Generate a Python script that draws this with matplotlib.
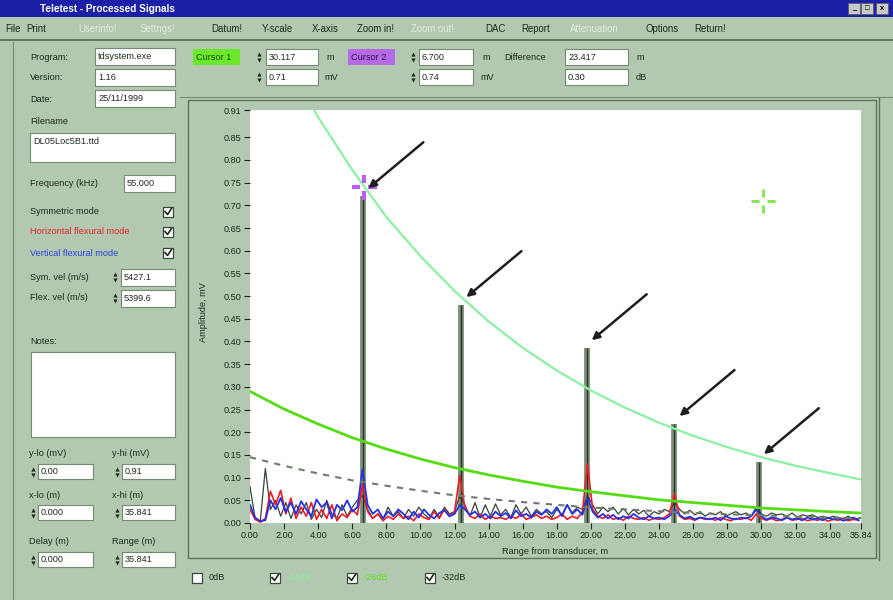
import numpy as np
import matplotlib.pyplot as plt
from matplotlib.patches import Rectangle
from matplotlib.path import Path
from matplotlib.transforms import offset_copy

plt.rcParams['font.family'] = ['Liberation Sans', 'DejaVu Sans']

# ---- processed traces, amplitude (mV) every 0.3 m from the transducer ----
x_step = 0.3
blue_amp = [
    0.040, 0.012, 0.004, 0.006, 0.050, 0.030, 0.055, 0.025, 0.045, 0.020,
    0.048, 0.030, 0.015, 0.052, 0.035, 0.045, 0.010, 0.040, 0.028, 0.050,
    0.025, 0.035, 0.118, 0.040, 0.020, 0.030, 0.010, 0.025, 0.015, 0.030,
    0.020, 0.008, 0.025, 0.012, 0.030, 0.018, 0.010, 0.022, 0.028, 0.015,
    0.020, 0.040, 0.030, 0.018, 0.025, 0.012, 0.020, 0.010, 0.025, 0.015,
    0.022, 0.010, 0.028, 0.015, 0.020, 0.012, 0.025, 0.018, 0.030, 0.020,
    0.035, 0.015, 0.040, 0.020, 0.030, 0.018, 0.055, 0.025, 0.012, 0.020,
    0.010, 0.018, 0.008, 0.015, 0.010, 0.020, 0.012, 0.008, 0.015, 0.010,
    0.012, 0.008, 0.015, 0.030, 0.018, 0.010, 0.014, 0.008, 0.012, 0.010,
    0.008, 0.012, 0.006, 0.015, 0.010, 0.008, 0.012, 0.010, 0.015, 0.030,
    0.015, 0.008, 0.012, 0.010, 0.006, 0.012, 0.008, 0.010, 0.006, 0.012,
    0.008, 0.010, 0.006, 0.012, 0.008, 0.010, 0.005, 0.008, 0.012, 0.006,
]
red_amp = [
    0.030, 0.008, 0.002, 0.010, 0.070, 0.040, 0.072, 0.020, 0.055, 0.010,
    0.035, 0.015, 0.045, 0.008, 0.030, 0.010, 0.040, 0.005, 0.020, 0.012,
    0.030, 0.018, 0.085, 0.025, 0.010, 0.020, 0.005, 0.015, 0.008, 0.020,
    0.010, 0.015, 0.005, 0.020, 0.012, 0.008, 0.025, 0.010, 0.030, 0.015,
    0.025, 0.105, 0.035, 0.015, 0.010, 0.020, 0.008, 0.015, 0.010, 0.012,
    0.008, 0.015, 0.010, 0.020, 0.008, 0.012, 0.018, 0.010, 0.015, 0.008,
    0.012, 0.020, 0.008, 0.015, 0.010, 0.025, 0.130, 0.030, 0.015, 0.010,
    0.018, 0.008, 0.012, 0.006, 0.015, 0.010, 0.008, 0.012, 0.006, 0.010,
    0.008, 0.012, 0.020, 0.065, 0.015, 0.008, 0.010, 0.006, 0.012, 0.008,
    0.010, 0.006, 0.012, 0.008, 0.005, 0.010, 0.008, 0.012, 0.006, 0.020,
    0.010, 0.006, 0.010, 0.005, 0.008, 0.012, 0.006, 0.008, 0.010, 0.005,
    0.008, 0.006, 0.010, 0.004, 0.008, 0.006, 0.010, 0.005, 0.008, 0.006,
]
sym_amp = [
    0.080, 0.010, 0.003, 0.120, 0.030, 0.050, 0.015, 0.045, 0.010, 0.040,
    0.020, 0.045, 0.008, 0.030, 0.012, 0.050, 0.020, 0.010, 0.040, 0.015,
    0.035, 0.050, 0.060, 0.030, 0.010, 0.020, 0.008, 0.035, 0.015, 0.025,
    0.010, 0.030, 0.015, 0.035, 0.020, 0.010, 0.030, 0.012, 0.035, 0.020,
    0.025, 0.060, 0.040, 0.015, 0.045, 0.012, 0.040, 0.015, 0.042, 0.018,
    0.030, 0.012, 0.040, 0.020, 0.035, 0.015, 0.030, 0.020, 0.025, 0.012,
    0.030, 0.018, 0.040, 0.022, 0.035, 0.030, 0.060, 0.040, 0.020, 0.035,
    0.025, 0.035, 0.020, 0.032, 0.018, 0.030, 0.020, 0.028, 0.015, 0.025,
    0.020, 0.030, 0.025, 0.045, 0.030, 0.020, 0.028, 0.018, 0.025, 0.015,
    0.022, 0.018, 0.025, 0.015, 0.020, 0.025, 0.018, 0.022, 0.015, 0.035,
    0.020, 0.015, 0.022, 0.018, 0.020, 0.015, 0.022, 0.012, 0.018, 0.015,
    0.018, 0.012, 0.015, 0.010, 0.015, 0.012, 0.010, 0.015, 0.008, 0.010,
]
x_grid = np.arange(len(sym_amp)) * x_step

# echoes on the symmetric trace
peak_x = [6.65, 12.4, 19.75, 24.9, 29.85]
peak_amp = [0.72, 0.48, 0.385, 0.218, 0.134]

# distance amplitude correction curves
dac_x = [0, 2, 4, 6, 8, 10, 12, 14, 16, 18, 20, 22, 24, 26, 28, 30, 32, 34, 35.84]
dac_14 = [1.18, 1.03, 0.894, 0.778, 0.674, 0.588, 0.511, 0.444, 0.386, 0.336,
          0.292, 0.254, 0.221, 0.192, 0.167, 0.145, 0.126, 0.110, 0.096]
dac_26 = [0.290, 0.251, 0.218, 0.188, 0.163, 0.141, 0.122, 0.106, 0.092, 0.079,
          0.069, 0.060, 0.051, 0.045, 0.039, 0.033, 0.029, 0.025, 0.022]
dac_32 = [0.145, 0.126, 0.109, 0.094, 0.082, 0.071, 0.061, 0.053, 0.046, 0.040,
          0.034, 0.030, 0.026, 0.022, 0.019, 0.017, 0.014, 0.012, 0.011]

cursor1 = (30.117, 0.71)
cursor2 = (6.700, 0.74)

x_max = 35.841
y_max = 0.91
yticks = [0.00, 0.05, 0.10, 0.15, 0.20, 0.25, 0.30, 0.35, 0.40, 0.45,
          0.50, 0.55, 0.60, 0.65, 0.70, 0.75, 0.80, 0.85, 0.91]
xticks = [0, 2, 4, 6, 8, 10, 12, 14, 16, 18, 20, 22, 24, 26, 28, 30, 32, 34, 35.84]

PANEL = '#b3c8b0'
EDGE = '#748a71'
INK = '#1d2a1d'
FS = 6.6

W, H = 893, 600
fig = plt.figure(figsize=(W / 100, H / 100), dpi=100, facecolor=PANEL)

# window furniture in pixel coordinates
ui = fig.add_axes([0, 0, 1, 1], zorder=0)
ui.set_xlim(0, W)
ui.set_ylim(H, 0)
ui.axis('off')


def label(x, y, s, color=INK, size=FS, **kw):
    ui.text(x, y, s, fontsize=size, va='center', ha='left', color=color, **kw)


def box(x, y, w, h, text=''):
    ui.add_patch(Rectangle((x, y), w, h, fc='white', ec=EDGE, lw=0.8))
    if text:
        label(x + 3, y + h / 2, text)


def spinner(x, y):
    ui.plot([x], [y - 3], marker='^', ms=3, color=INK, mew=0)
    ui.plot([x], [y + 3], marker='v', ms=3, color=INK, mew=0)


def checkbox(x, y, checked=True):
    ui.add_patch(Rectangle((x, y - 5), 10, 10, fc='white', ec='#3a4a3a', lw=0.9))
    if checked:
        ui.plot([x + 2, x + 4.5, x + 8.5], [y - 0.5, y + 2.5, y - 3.5],
                color=INK, lw=1.2)


# title bar
ui.add_patch(Rectangle((0, 0), W, 17, fc='#1c20a6', ec='none'))
label(40, 8.5, 'Teletest - Processed Signals', color='white', size=7.2,
      fontweight='bold')
for bx, glyph in zip([848, 861, 876], ['_', '\u25a1', 'x']):
    ui.add_patch(Rectangle((bx, 3), 12, 11, fc='#c8c8c8', ec='#606060', lw=0.6))
    ui.text(bx + 6, 8.5, glyph, fontsize=5.5, ha='center', va='center',
            color='black', fontweight='bold')

# menu bar
menu = [('File', 5, True), ('Print', 26, True), ('Userinfo!', 78, False),
        ('Settngs!', 140, False), ('Datum!', 211, True), ('Y-scale', 262, True),
        ('X-axis', 312, True), ('Zoom in!', 357, True), ('Zoom out!', 411, False),
        ('DAC', 485, True), ('Report', 521, True), ('Attenuation', 570, False),
        ('Options', 645, True), ('Return!', 694, True)]
for name, mx, active in menu:
    label(mx, 29, name, color=INK if active else '#e4ece2', size=6.9)
ui.plot([0, W], [40, 40], color='#55694f', lw=1.2)

# left information panel
ui.plot([13, 13], [42, H], color=EDGE, lw=0.8)
label(30, 57, 'Program:')
box(95, 48, 80, 17, 'tdsystem.exe')
label(30, 78, 'Version:')
box(95, 69, 80, 17, '1.16')
label(30, 99, 'Date:')
box(95, 90, 80, 17, '25/11/1999')
label(30, 121, 'Filename')
ui.add_patch(Rectangle((30, 133), 145, 29, fc='white', ec=EDGE, lw=0.8))
label(33, 141, 'DL05Loc5B1.ttd')
label(30, 183, 'Frequency (kHz)')
box(124, 175, 51, 17, '55.000')
label(30, 212, 'Symmetric mode')
checkbox(163, 212)
label(30, 232, 'Horizontal flexural mode', color='#e8202a')
checkbox(163, 232)
label(30, 253, 'Vertical flexural mode', color='#2a46e0')
checkbox(163, 253)
label(30, 277, 'Sym. vel (m/s)')
spinner(115, 277)
box(121, 269, 54, 17, '5427.1')
label(30, 298, 'Flex. vel (m/s)')
spinner(115, 298)
box(121, 290, 54, 17, '5399.6')
label(30, 342, 'Notes:')
ui.add_patch(Rectangle((31, 352), 144, 85, fc='white', ec=EDGE, lw=0.8))

for row_y, left_lab, right_lab, left_val, right_val in [
        (454, 'y-lo (mV)', 'y-hi (mV)', '0.00', '0.91'),
        (495, 'x-lo (m)', 'x-hi (m)', '0.000', '35.841'),
        (542, 'Delay (m)', 'Range (m)', '0.000', '35.841')]:
    label(29, row_y, left_lab)
    label(112, row_y, right_lab)
    spinner(33, row_y + 18)
    box(38, row_y + 10, 55, 15, left_val)
    spinner(117, row_y + 18)
    box(122, row_y + 10, 53, 15, right_val)

# cursor read-outs
ui.add_patch(Rectangle((193, 49), 47, 16, fc='#6be82a', ec='none'))
label(196, 57, 'Cursor 1', color='#1d4a10')
spinner(259, 57)
box(266, 49, 52, 16, f'{cursor1[0]:.3f}')
label(326, 57, 'm')
spinner(259, 77)
box(266, 69, 52, 16, f'{cursor1[1]:.2f}')
label(324, 77, 'mV')
ui.add_patch(Rectangle((348, 49), 47, 16, fc='#b46be6', ec='none'))
label(351, 57, 'Cursor 2', color='#3a1050')
spinner(413, 57)
box(419, 49, 54, 16, f'{cursor2[0]:.3f}')
label(482, 57, 'm')
spinner(413, 77)
box(419, 69, 54, 16, f'{cursor2[1]:.2f}')
label(480, 77, 'mV')
label(504, 57, 'Difference')
box(565, 49, 63, 16, f'{cursor1[0] - cursor2[0]:.3f}')
label(636, 57, 'm')
box(565, 69, 63, 16, '0.30')
label(636, 77, 'dB')
ui.plot([180, W], [97, 97], color=EDGE, lw=0.8)

# graph frame
ui.add_patch(Rectangle((188, 100), 688, 458, fc=PANEL, ec='#5e735b', lw=1.0))
ui.plot([879, 879], [98, 560], color='#5e735b', lw=1.0)
ui.text(204, 312, 'Amplitude, mV', rotation=90, fontsize=FS, ha='center',
        va='center', color=INK)

# DAC selection boxes under the graph
for cx, txt, col, chk in [(192, '0dB', INK, False), (270, '-14dB', '#8ef0a0', True),
                          (347, '-26dB', '#5ee01c', True), (425, '-32dB', INK, True)]:
    checkbox(cx, 578, chk)
    label(cx + 17, 578, txt, color=col)

# ---- signal plot ----
ax = fig.add_axes([250 / W, (H - 523) / H, 611 / W, 413 / H], zorder=1)
ax.set_facecolor('white')
for s in ax.spines.values():
    s.set_visible(False)

ax.vlines(peak_x, 0, peak_amp, color='#7d9179', lw=4.2, zorder=2)
ax.plot(x_grid, sym_amp, color='#354435', lw=0.9, zorder=2)
ax.vlines(peak_x, 0, peak_amp, color='#263326', lw=1.0, zorder=2)
ax.plot(x_grid, red_amp, color='#ee1c24', lw=1.2, zorder=3)
ax.plot(x_grid, blue_amp, color='#2432e6', lw=1.3, zorder=4)

ax.plot(dac_x, dac_14, color='#8cf0a4', lw=1.6, zorder=5)
ax.plot(dac_x, dac_26, color='#55dc14', lw=2.0, zorder=5)
ax.plot(dac_x, dac_32, color='#6d7d6b', lw=1.5, ls=(0, (3, 3)), zorder=5)

# cursors
gap = 0.32
cross = Path([(-1, 0), (-gap, 0), (gap, 0), (1, 0),
              (0, -1), (0, -gap), (0, gap), (0, 1)],
             [Path.MOVETO, Path.LINETO] * 4)
ax.plot(*cursor2, marker=cross, ms=18, mew=3.0, color='#b760f2', zorder=6)
ax.plot(*cursor1, marker=cross, ms=17, mew=2.0, color='#7fe64a', zorder=6)

# arrows at each echo
tip = offset_copy(ax.transData, fig=fig, x=5, y=8, units='dots')
for px, pa in zip(peak_x, peak_amp):
    ax.annotate('', xy=(px, pa), xycoords=tip, xytext=(55, 46),
                textcoords='offset pixels',
                arrowprops=dict(arrowstyle='-|>', color='#1e1e1e', lw=1.8,
                                mutation_scale=11, shrinkA=0, shrinkB=0),
                zorder=7)

ax.set_xlim(0, x_max)
ax.set_ylim(0, y_max)
ax.set_yticks(yticks)
ax.set_yticklabels([f'{v:.2f}' for v in yticks])
ax.set_xticks(xticks)
ax.set_xticklabels([f'{v:.2f}' for v in xticks])
ax.tick_params(axis='both', labelsize=FS, colors=INK, length=4, width=0.8,
               direction='out')
ax.tick_params(axis='x', pad=2)
ax.tick_params(axis='y', pad=2)
ax.set_xlabel('Range from transducer, m', fontsize=FS, color=INK, labelpad=5)

fig.savefig('out.png', dpi=100, facecolor=PANEL)
